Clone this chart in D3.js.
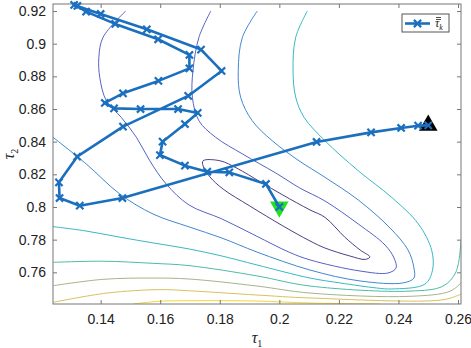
<!DOCTYPE html>
<html lang="en">
<head>
<meta charset="UTF-8">
<title>tau iterates on contours</title>
<script src="https://cdn.jsdelivr.net/npm/d3@7"></script>
<style>
  body { margin: 0; background: #fff; }
  .tick text { font-family: "Liberation Sans", Arial, sans-serif; font-size: 14px; fill: #222; }
  .tick line { stroke: #777; }
  .contour { fill: none; stroke-width: 1; }
</style>
</head>
<body>
<script>
// axis ticks
const xTicks = [0.14, 0.16, 0.18, 0.2, 0.22, 0.24, 0.26];
const yTicks = [0.76, 0.78, 0.8, 0.82, 0.84, 0.86, 0.88, 0.9, 0.92];

// iterate path (tau1, tau2), from start (black) to end (green)
const pathTau1 = [0.2500, 0.2466, 0.2409, 0.2308, 0.2125, 0.1473, 0.1330, 0.1262, 0.1260, 0.1321,
                  0.1475, 0.1694, 0.1806, 0.1737, 0.1555, 0.1400, 0.1311, 0.1322, 0.1351, 0.1449,
                  0.1593, 0.1698, 0.1698, 0.1594, 0.1475, 0.1414, 0.1445, 0.1534, 0.1660, 0.1726,
                  0.1683, 0.1608, 0.1599, 0.1683, 0.1758, 0.1832, 0.1955, 0.2000];
const pathTau2 = [0.8500, 0.8498, 0.8484, 0.8457, 0.8398, 0.8055, 0.8008, 0.8055, 0.8151, 0.8308,
                  0.8492, 0.8680, 0.8833, 0.8964, 0.9088, 0.9182, 0.9237, 0.9231, 0.9196, 0.9121,
                  0.9027, 0.8931, 0.8849, 0.8772, 0.8696, 0.8637, 0.8604, 0.8600, 0.8600, 0.8576,
                  0.8508, 0.8400, 0.8318, 0.8253, 0.8216, 0.8212, 0.8141, 0.8000];

const startPoint = [0.25, 0.85];
const endPoint = [0.2, 0.8];

// contour lines, innermost first
const contour1 = [[0.1744,0.8283],[0.1801,0.8283],[0.1858,0.8237],[0.1935,0.8155],[0.2012,0.8073],
                  [0.2103,0.7982],[0.2153,0.7937],[0.2220,0.7815],[0.2271,0.7737],[0.2304,0.7694],
                  [0.2288,0.7679],[0.2237,0.7700],[0.2153,0.7749],[0.2103,0.7792],[0.2012,0.7884],
                  [0.1901,0.8006],[0.1811,0.8110],[0.1767,0.8184],[0.1744,0.8251]];
const contour2 = [[0.1484,0.9200],[0.1408,0.9039],[0.1394,0.8917],[0.1397,0.8794],[0.1419,0.8651],
                  [0.1469,0.8549],[0.1520,0.8427],[0.1565,0.8283],[0.1620,0.8141],[0.1697,0.8012],
                  [0.1807,0.7927],[0.1922,0.7823],[0.2032,0.7724],[0.2103,0.7676],[0.2271,0.7608],
                  [0.2365,0.7596],[0.2392,0.7627],[0.2385,0.7688],[0.2355,0.7767],[0.2265,0.7896],
                  [0.2153,0.8037],[0.2069,0.8116],[0.1988,0.8208],[0.1876,0.8325],[0.1786,0.8427],
                  [0.1730,0.8528],[0.1708,0.8672],[0.1710,0.8835],[0.1730,0.9039],[0.1770,0.9200]];
const contour3 = [[0.1240,0.8427],[0.1352,0.8263],[0.1464,0.8080],[0.1576,0.7957],[0.1697,0.7878],
                  [0.1807,0.7810],[0.1925,0.7724],[0.2103,0.7614],[0.2271,0.7547],[0.2415,0.7535],
                  [0.2452,0.7565],[0.2452,0.7627],[0.2432,0.7737],[0.2372,0.7871],[0.2265,0.8043],
                  [0.2153,0.8182],[0.2066,0.8283],[0.1976,0.8406],[0.1909,0.8528],[0.1870,0.8672],
                  [0.1862,0.8835],[0.1876,0.9039],[0.1926,0.9200]];
const contour4 = [[0.1240,0.7880],[0.1351,0.7853],[0.1465,0.7815],[0.1576,0.7780],[0.1697,0.7743],
                  [0.1807,0.7700],[0.1925,0.7645],[0.2103,0.7565],[0.2204,0.7535],[0.2327,0.7504],
                  [0.2377,0.7498],[0.2489,0.7528],[0.2514,0.7610],[0.2512,0.7732],[0.2467,0.7896],
                  [0.2377,0.8059],[0.2265,0.8222],[0.2153,0.8406],[0.2083,0.8549],[0.2055,0.8672],
                  [0.2046,0.8835],[0.2055,0.9039],[0.2094,0.9200]];
const contour5 = [[0.1240,0.7661],[0.1408,0.7668],[0.1576,0.7655],[0.1697,0.7641],[0.1925,0.7578],
                  [0.2103,0.7516],[0.2439,0.7485],[0.2550,0.7516],[0.2593,0.7602],[0.2610,0.7798]];
const contour6 = [[0.1240,0.7518],[0.1408,0.7557],[0.1576,0.7565],[0.1697,0.7559],[0.1925,0.7516],
                  [0.2103,0.7473],[0.2439,0.7453],[0.2573,0.7484],[0.2610,0.7535]];
const contour7 = [[0.1240,0.7416],[0.1421,0.7473],[0.1599,0.7494],[0.1697,0.7487],[0.1925,0.7461],
                  [0.2103,0.7443],[0.2550,0.7432],[0.2610,0.7467]];
const contour8 = [[0.1509,0.7406],[0.1599,0.7423],[0.1697,0.7426],[0.1925,0.7424],[0.2103,0.7412],
                  [0.2338,0.7406]];

const contourLines = [contour1, contour2, contour3, contour4, contour5, contour6, contour7, contour8];
const contourColors = ["#4d3f86", "#5563c4", "#3f88d0", "#38b8c6", "#4cbca6", "#a7b48a", "#d6c25e", "#f2d830"];
const contourClosed = [true, false, false, false, false, false, false, false];

const width = 471, height = 348;
const plot = {left: 53, right: 461, top: 4, bottom: 304};
const pathColor = "#1a6fbf";

const svg = d3.select("body").append("svg")
    .attr("width", width)
    .attr("height", height);

const x = d3.scaleLinear().domain([0.124, 0.261]).range([plot.left, plot.right]);
const y = d3.scaleLinear().domain([0.7406, 0.9243]).range([plot.bottom, plot.top]);

svg.append("defs").append("clipPath").attr("id", "clip")
    .append("rect")
    .attr("x", plot.left).attr("y", plot.top)
    .attr("width", plot.right - plot.left).attr("height", plot.bottom - plot.top);

// contours
const openLine = d3.line().x(d => x(d[0])).y(d => y(d[1])).curve(d3.curveCatmullRom.alpha(0.5));
const closedLine = d3.line().x(d => x(d[0])).y(d => y(d[1])).curve(d3.curveCatmullRomClosed.alpha(0.5));

svg.append("g").attr("clip-path", "url(#clip)")
    .selectAll("path.contour")
    .data(contourLines)
    .join("path").attr("class", "contour")
    .attr("d", (d, i) => contourClosed[i] ? closedLine(d) : openLine(d))
    .attr("stroke", (d, i) => contourColors[i]);

// axes, ticks pointing inwards
const xAxis = d3.axisBottom(x).tickValues(xTicks).tickSize(-4).tickPadding(10).tickFormat(d3.format("~g"));
const yAxis = d3.axisLeft(y).tickValues(yTicks).tickSize(-4).tickPadding(7).tickFormat(d3.format("~g"));

svg.append("g").attr("transform", `translate(0,${plot.bottom})`).call(xAxis)
    .call(g => g.select(".domain").remove());
svg.append("g").attr("transform", `translate(${plot.left},0)`).call(yAxis)
    .call(g => g.select(".domain").remove());
svg.append("g").attr("transform", `translate(0,${plot.top})`)
    .call(d3.axisTop(x).tickValues(xTicks).tickSize(-4).tickFormat(""))
    .call(g => g.select(".domain").remove());
svg.append("g").attr("transform", `translate(${plot.right},0)`)
    .call(d3.axisRight(y).tickValues(yTicks).tickSize(-4).tickFormat(""))
    .call(g => g.select(".domain").remove());

svg.append("rect")
    .attr("x", plot.left).attr("y", plot.top)
    .attr("width", plot.right - plot.left).attr("height", plot.bottom - plot.top)
    .attr("fill", "none").attr("stroke", "#777").attr("stroke-width", 1);

// axis labels
const xLabel = svg.append("text")
    .attr("x", (plot.left + plot.right) / 2).attr("y", 343)
    .attr("text-anchor", "middle")
    .style("font-family", "'Liberation Serif', 'DejaVu Serif', serif")
    .style("font-size", "16px").style("font-style", "italic").attr("fill", "#222");
xLabel.append("tspan").text("τ");
xLabel.append("tspan").attr("dy", 4).style("font-size", "10px").style("font-style", "normal").text("1");

const yLabel = svg.append("text")
    .attr("transform", `translate(14,${(plot.top + plot.bottom) / 2}) rotate(-90)`)
    .attr("text-anchor", "middle")
    .style("font-family", "'Liberation Serif', 'DejaVu Serif', serif")
    .style("font-size", "16px").style("font-style", "italic").attr("fill", "#222");
yLabel.append("tspan").text("τ");
yLabel.append("tspan").attr("dy", 4).style("font-size", "10px").style("font-style", "normal").text("2");

// start / end triangles
svg.append("path")
    .attr("d", d3.symbol(d3.symbolTriangle, 150)())
    .attr("transform", `translate(${x(startPoint[0])},${y(startPoint[1])})`)
    .attr("fill", "#000");
svg.append("path")
    .attr("d", d3.symbol(d3.symbolTriangle, 150)())
    .attr("transform", `translate(${x(endPoint[0])},${y(endPoint[1])}) rotate(180)`)
    .attr("fill", "#22e022");

// iterate path
const pts = pathTau1.map((t, i) => [t, pathTau2[i]]);
svg.append("path")
    .datum(pts)
    .attr("d", d3.line().x(d => x(d[0])).y(d => y(d[1])))
    .attr("fill", "none")
    .attr("stroke", pathColor)
    .attr("stroke-width", 2.6)
    .attr("stroke-linejoin", "round");

const xMark = s => `M${-s},${-s}L${s},${s}M${-s},${s}L${s},${-s}`;
svg.append("g").selectAll("path")
    .data(pts)
    .join("path")
    .attr("d", xMark(3.6))
    .attr("transform", d => `translate(${x(d[0])},${y(d[1])})`)
    .attr("fill", "none")
    .attr("stroke", pathColor)
    .attr("stroke-width", 2.2);

// legend
const legend = svg.append("g");
legend.append("rect")
    .attr("x", 402).attr("y", 14).attr("width", 47).attr("height", 18)
    .attr("fill", "#fff").attr("stroke", "#555").attr("stroke-width", 1);
legend.append("line")
    .attr("x1", 405).attr("x2", 430).attr("y1", 23.5).attr("y2", 23.5)
    .attr("stroke", pathColor).attr("stroke-width", 2.6);
legend.append("path")
    .attr("d", xMark(3.6))
    .attr("transform", "translate(417.5,23.5)")
    .attr("fill", "none").attr("stroke", pathColor).attr("stroke-width", 2.2);
const legText = legend.append("text")
    .attr("x", 435).attr("y", 27)
    .style("font-family", "'Liberation Serif', 'DejaVu Serif', serif")
    .style("font-size", "12px").style("font-style", "italic").attr("fill", "#222");
legText.append("tspan").text("τ");
legText.append("tspan").attr("dy", 3).style("font-size", "8px").text("k");
// double bar over tau
legend.selectAll("line.bar")
    .data([17.5, 19.5])
    .join("line").attr("class", "bar")
    .attr("x1", 436).attr("x2", 441).attr("y1", d => d).attr("y2", d => d)
    .attr("stroke", "#222").attr("stroke-width", 0.8);
</script>
</body>
</html>
